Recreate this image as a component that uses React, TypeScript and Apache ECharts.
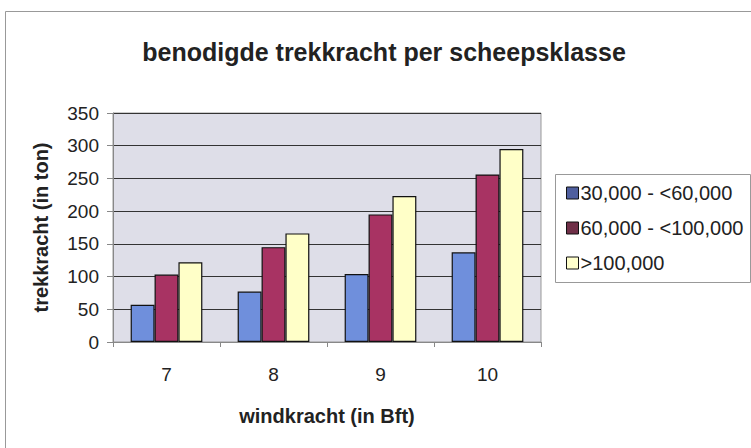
import React, { useEffect, useRef } from "react";
import * as echarts from "echarts";

const categories = ["7", "8", "9", "10"];
const seriesNames = ["30,000 - <60,000", "60,000 - <100,000", ">100,000"];
const small = [57, 77, 104, 137];
const medium = [103, 145, 195, 256];
const large = [122, 166, 223, 295];
const barColors = ["#6f8fdc", "#a83363", "#ffffc8"];
const legendColors = ["#4f5f9f", "#6f2f47", "#ffffcc"];

export default function App() {
  const ref = useRef<HTMLDivElement>(null);
  useEffect(() => {
    if (!ref.current) return;
    const chart = echarts.init(ref.current, null, { renderer: "svg" });
    const font = "'Liberation Sans', Arial, sans-serif";
    const values = [small, medium, large];
    chart.setOption({
      animation: false,
      backgroundColor: "#ffffff",
      textStyle: { fontFamily: font, color: "#222" },
      title: {
        text: "benodigde trekkracht per scheepsklasse",
        left: 379,
        top: 34,
        textAlign: "center",
        textStyle: { fontFamily: font, fontSize: 25, fontWeight: "bold", color: "#222" },
      },
      graphic: [
        {
          type: "rect",
          shape: { x: 5.5, y: 11.5, width: 760, height: 460 },
          style: { fill: "none", stroke: "#999", lineWidth: 1 },
          silent: true,
          z: -10,
        },
        {
          type: "rect",
          shape: { x: 555.5, y: 174.5, width: 195, height: 108 },
          style: { fill: "#fff", stroke: "#999", lineWidth: 1 },
          silent: true,
          z: -5,
        },
      ],
      legend: {
        orient: "vertical",
        left: 561,
        top: 178,
        itemWidth: 12,
        itemHeight: 12,
        itemGap: 15,
        icon: "rect",
        textStyle: { fontFamily: font, fontSize: 20, color: "#222", padding: [0, 0, 0, -3] },
        data: seriesNames.map((n, i) => ({
          name: n,
          itemStyle: { color: legendColors[i], borderColor: "#111", borderWidth: 1 },
        })),
      },
      grid: {
        left: 113,
        right: 210,
        top: 113,
        bottom: 106,
        show: true,
        backgroundColor: "#dedee8",
        borderColor: "#999",
        borderWidth: 1,
      },
      xAxis: {
        type: "category",
        data: categories,
        name: "windkracht (in Bft)",
        nameLocation: "middle",
        nameGap: 64,
        nameTextStyle: { fontFamily: font, fontSize: 20, fontWeight: "bold", color: "#222" },
        axisLine: { lineStyle: { color: "#888", width: 1 } },
        axisTick: { show: true, length: 5, lineStyle: { color: "#888" } },
        axisLabel: { fontFamily: font, fontSize: 19, color: "#222", margin: 23 },
      },
      yAxis: {
        type: "value",
        min: 0,
        max: 350,
        interval: 50,
        name: "trekkracht (in ton)",
        nameLocation: "middle",
        nameGap: 62,
        nameTextStyle: { fontFamily: font, fontSize: 20, fontWeight: "bold", color: "#222" },
        axisLine: { show: true, lineStyle: { color: "#888", width: 1 } },
        axisTick: { show: true, length: 6, lineStyle: { color: "#888" } },
        axisLabel: { fontFamily: font, fontSize: 19, color: "#222", margin: 14 },
        splitLine: { show: true, lineStyle: { color: "#333", width: 1 } },
      },
      series: seriesNames.map((n, i) => ({
        name: n,
        type: "bar",
        data: values[i],
        barGap: "0%",
        barCategoryGap: "33%",
        itemStyle: { color: barColors[i], borderColor: "#111", borderWidth: 1.2 },
      })),
    });
    return () => chart.dispose();
  }, []);
  return (
    <div
      ref={ref}
      style={{ position: "fixed", left: 0, top: 0, width: 751, height: 448 }}
    />
  );
}
